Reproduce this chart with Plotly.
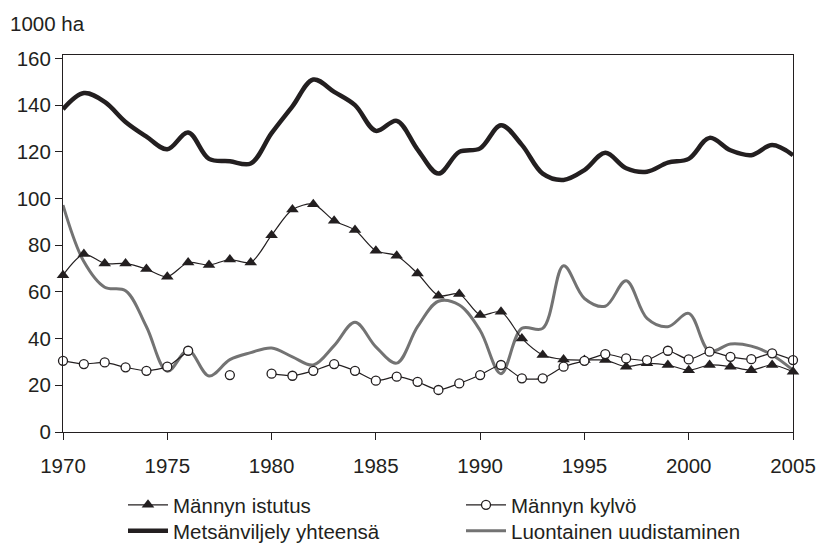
import plotly.graph_objects as go

years = list(range(1970, 2006))

istutus = [67.2, 76.2, 72.2, 72.2, 69.8, 66.5, 72.6, 71.5, 73.9, 72.6,
           84.3, 95.3, 97.6, 90.5, 86.5, 77.6, 75.5, 67.9, 58.4, 59.1,
           50.1, 51.5, 40.1, 33.0, 31.1, 30.8, 30.8, 28.0, 29.4, 28.7,
           26.5, 28.7, 28.0, 26.5, 28.7, 25.8]

kylvo = [30.5, 29.1, 29.8, 27.7, 26.2, 28.0, 34.8, None, 24.4, None,
         25.0, 24.1, 26.2, 29.1, 26.2, 22.0, 23.7, 21.5, 18.0, 20.8,
         24.4, 28.7, 23.0, 23.0, 28.0, 30.5, 33.4, 31.5, 30.8, 34.8,
         31.1, 34.4, 32.2, 31.2, 33.7, 30.8]

yhteensa = [138.3, 145.2, 141.4, 132.8, 126.5, 121.1, 128.3, 117.0, 116.0, 115.0,
            128.0, 139.5, 151.0, 145.7, 140.0, 129.0, 133.3, 121.0, 110.7, 120.0,
            121.5, 131.4, 123.0, 110.7, 108.0, 112.2, 119.6, 113.0, 111.5, 115.4,
            117.0, 126.0, 120.7, 118.6, 122.9, 118.6]

luontainen = [97.2, 73.0, 62.0, 60.5, 45.1, 26.0, 35.0, 24.0, 31.0, 34.0,
              36.0, 32.2, 28.7, 37.0, 47.0, 36.5, 29.5, 45.1, 56.0, 54.4,
              43.5, 25.0, 44.4, 44.4, 71.2, 57.2, 53.9, 64.8, 48.7, 45.1,
              50.8, 34.6, 37.7, 36.8, 33.0, 26.5]

x_ticks = [1970, 1975, 1980, 1985, 1990, 1995, 2000, 2005]
y_ticks = [0, 20, 40, 60, 80, 100, 120, 140, 160]

names = ["Männyn istutus", "Männyn kylvö", "Metsänviljely yhteensä", "Luontainen uudistaminen"]

INK = "#231f20"
FONT = "Liberation Sans, Arial, sans-serif"
FS = 20.5

fig = go.Figure()

fig.add_trace(go.Scatter(
    x=years, y=luontainen, name=names[3], mode="lines",
    line=dict(color="#737373", width=3, shape="spline", smoothing=1),
    legend="legend4"))

fig.add_trace(go.Scatter(
    x=years, y=yhteensa, name=names[2], mode="lines",
    line=dict(color=INK, width=4.5, shape="spline", smoothing=1),
    legend="legend3"))

fig.add_trace(go.Scatter(
    x=years, y=istutus, name=names[0], mode="lines+markers",
    line=dict(color=INK, width=1.2, shape="spline", smoothing=0.8),
    marker=dict(symbol="triangle-up", size=11, color=INK, line=dict(width=0)),
    cliponaxis=False, legend="legend"))

fig.add_trace(go.Scatter(
    x=years, y=kylvo, name=names[1], mode="lines+markers",
    line=dict(color=INK, width=1.2, shape="spline", smoothing=0.6),
    marker=dict(symbol="circle", size=9, color="white", line=dict(color=INK, width=1.3)),
    connectgaps=False, cliponaxis=False, legend="legend2"))

leg_common = dict(
    orientation="v", xanchor="left", yanchor="top",
    itemwidth=40, tracegroupgap=0, bgcolor="rgba(0,0,0,0)",
    font=dict(family=FONT, size=FS, color=INK))

col1_x = (123 - 63) / 730
col2_x = (461 - 63) / 730
row1_y = -(485 - 432) / 377
row2_y = -(511 - 432) / 377

fig.update_layout(
    width=817, height=544,
    margin=dict(l=63, r=24, t=55, b=112, autoexpand=False),
    paper_bgcolor="white", plot_bgcolor="white",
    font=dict(family=FONT, size=FS, color=INK),
    showlegend=True,
    legend=dict(x=col1_x, y=row1_y, **leg_common),
    legend2=dict(x=col2_x, y=row1_y, **leg_common),
    legend3=dict(x=col1_x, y=row2_y, **leg_common),
    legend4=dict(x=col2_x, y=row2_y, **leg_common),
    xaxis=dict(
        range=[1970, 2005], tickvals=x_ticks, ticktext=[str(v) for v in x_ticks],
        ticks="outside", ticklen=7, tickcolor=INK, tickwidth=1,
        showline=True, linecolor=INK, linewidth=1, mirror=True,
        showgrid=False, zeroline=False, ticklabelstandoff=8,
        tickfont=dict(family=FONT, size=FS, color=INK)),
    yaxis=dict(
        range=[0, 161.5], tickvals=y_ticks, ticktext=[str(v) for v in y_ticks],
        ticks="outside", ticklen=7, tickcolor=INK, tickwidth=1,
        showline=True, linecolor=INK, linewidth=1, mirror=True,
        showgrid=False, zeroline=False,
        tickfont=dict(family=FONT, size=FS, color=INK)),
    annotations=[dict(
        text="1000 ha", xref="paper", yref="paper",
        x=-55 / 730, y=1 + 32 / 377, xanchor="left", yanchor="middle",
        showarrow=False, font=dict(family=FONT, size=FS, color=INK))],
)

fig.write_html(
    "out.html",
    config={"displayModeBar": False},
    post_script="document.body.style.margin='0';document.body.style.overflow='hidden';",
)
